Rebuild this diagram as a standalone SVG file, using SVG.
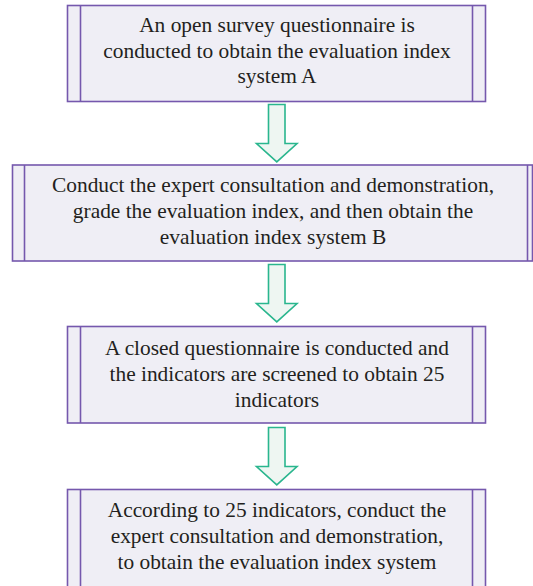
<svg xmlns="http://www.w3.org/2000/svg" width="533" height="586" viewBox="0 0 533 586">
  <style>
    .box { fill: #efeef5; stroke: #7558ad; stroke-width: 1.6; }
    .bar { fill: none; stroke: #7558ad; stroke-width: 1.6; }
    .arrow { fill: #eef6f2; stroke: #2ab68e; stroke-width: 1.6; stroke-linejoin: miter; }
    .t { font-family: 'Liberation Serif', 'DejaVu Serif', Georgia, serif; font-size: 21.4px; fill: #231f20; text-anchor: middle; }
  </style>
  <rect width="533" height="586" fill="#ffffff"/>

  <!-- step 1 -->
  <g id="step1">
    <rect class="box" x="67.5" y="5.5" width="418" height="96"/>
    <line class="bar" x1="80.5" y1="5.5" x2="80.5" y2="101.5"/>
    <line class="bar" x1="472.5" y1="5.5" x2="472.5" y2="101.5"/>
    <text class="t" x="277" y="32">An open survey questionnaire is</text>
    <text class="t" x="277" y="57.5">conducted to obtain the evaluation index</text>
    <text class="t" x="277" y="82.5">system A</text>
  </g>

  <!-- step 2 -->
  <g id="step2">
    <rect class="box" x="12.5" y="165" width="520" height="96"/>
    <line class="bar" x1="24.5" y1="165" x2="24.5" y2="261"/>
    <line class="bar" x1="527.5" y1="165" x2="527.5" y2="261"/>
    <text class="t" x="273" y="192">Conduct the expert consultation and demonstration,</text>
    <text class="t" x="273" y="218">grade the evaluation index, and then obtain the</text>
    <text class="t" x="273" y="244">evaluation index system B</text>
  </g>

  <!-- step 3 -->
  <g id="step3">
    <rect class="box" x="67.5" y="326.5" width="418" height="96.5"/>
    <line class="bar" x1="80.5" y1="326.5" x2="80.5" y2="423"/>
    <line class="bar" x1="472.5" y1="326.5" x2="472.5" y2="423"/>
    <text class="t" x="277" y="355">A closed questionnaire is conducted and</text>
    <text class="t" x="277" y="381">the indicators are screened to obtain 25</text>
    <text class="t" x="277" y="407">indicators</text>
  </g>

  <!-- step 4 -->
  <g id="step4">
    <rect class="box" x="67.5" y="489.5" width="418" height="100"/>
    <line class="bar" x1="80.5" y1="489.5" x2="80.5" y2="590"/>
    <line class="bar" x1="472.5" y1="489.5" x2="472.5" y2="590"/>
    <text class="t" x="277" y="517">According to 25 indicators, conduct the</text>
    <text class="t" x="277" y="543">expert consultation and demonstration,</text>
    <text class="t" x="277" y="569">to obtain the evaluation index system</text>
  </g>

  <!-- block arrows between steps -->
  <g id="connectors">
    <polygon class="arrow" points="268.5,104.5 285,104.5 285,143.5 297,143.5 276.8,161.8 256.5,143.5 268.5,143.5"/>
    <polygon class="arrow" points="268.5,264.5 285,264.5 285,303.5 297,303.5 276.8,321.8 256.5,303.5 268.5,303.5"/>
    <polygon class="arrow" points="268.5,427.5 285,427.5 285,466.5 297,466.5 276.8,484.8 256.5,466.5 268.5,466.5"/>
  </g>
</svg>
